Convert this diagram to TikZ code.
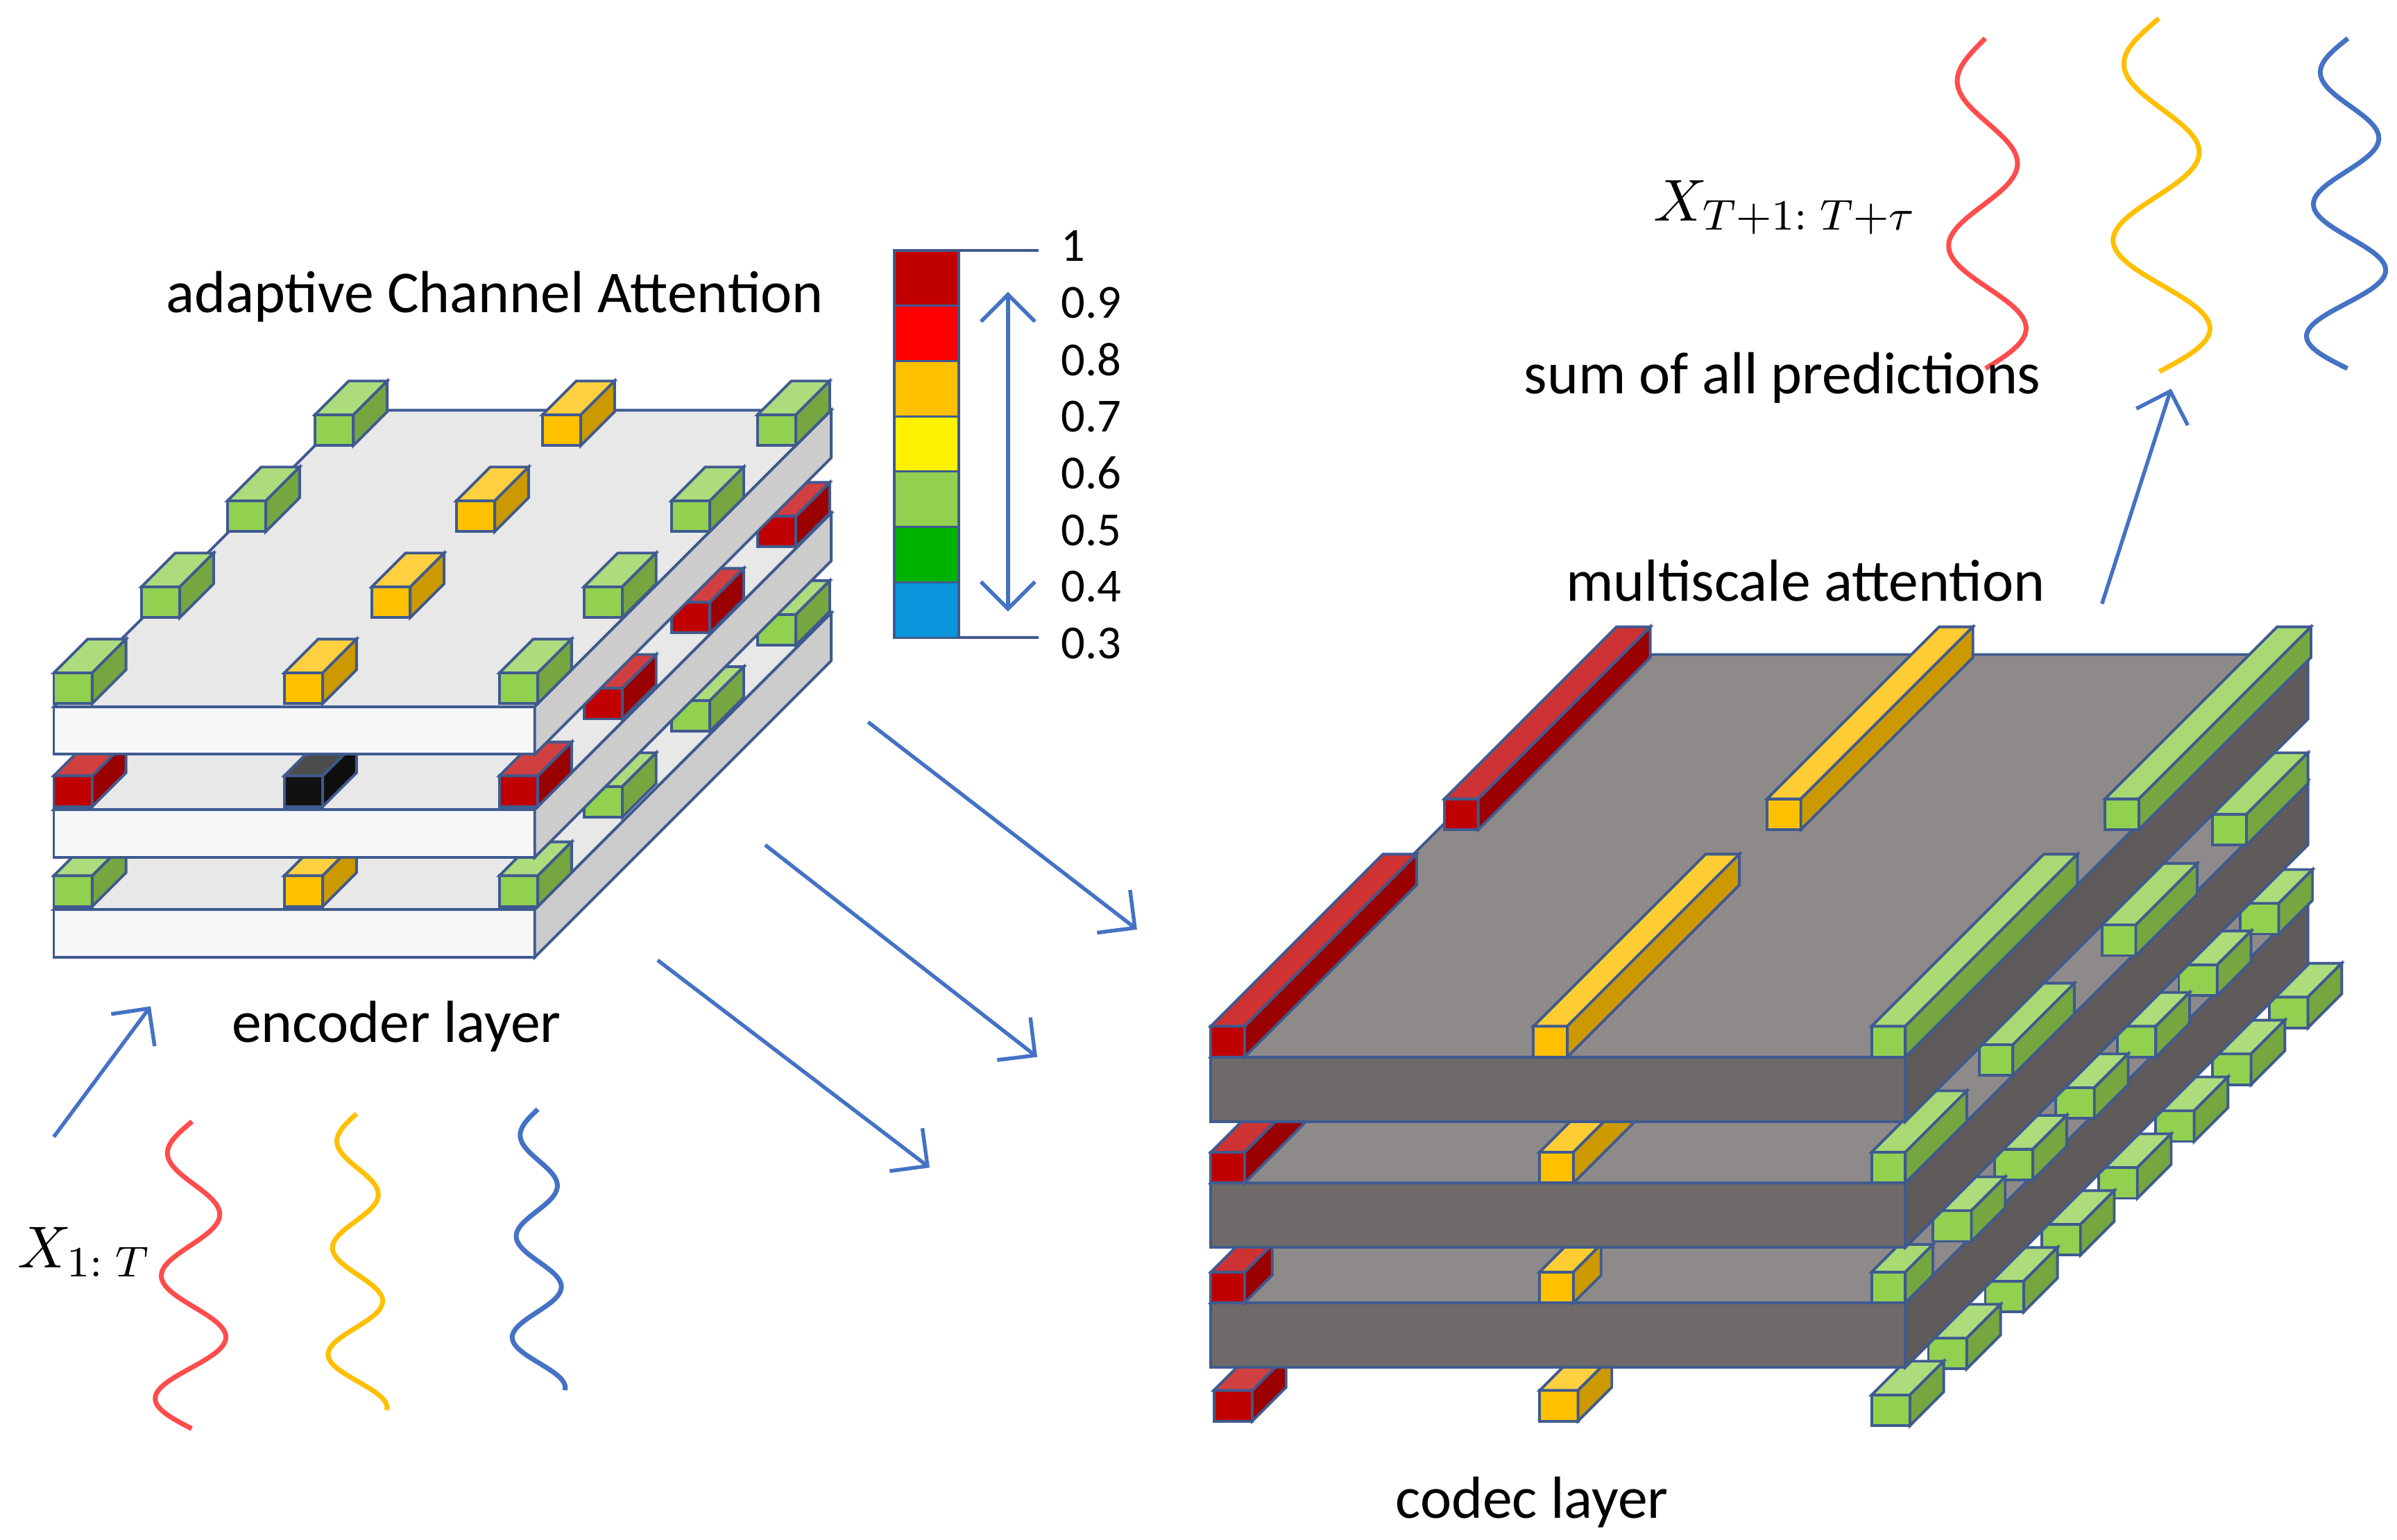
\documentclass[tikz,border=0pt]{standalone}
\usepackage{fontspec}
\setmainfont{Carlito}
\usetikzlibrary{arrows.meta}
\definecolor{bl}{HTML}{4472C4}
\definecolor{edge}{HTML}{3F5A8F}
\definecolor{dred}{HTML}{C00000}
\definecolor{org}{HTML}{FFC000}
\definecolor{lgr}{HTML}{92D050}
\definecolor{blk}{HTML}{111111}
\definecolor{ctop}{HTML}{8E8A89}
\definecolor{cfront}{HTML}{6E6A69}
\definecolor{cside}{HTML}{5E5B5A}
\newcommand{\prism}[8]{%
 \filldraw[draw=edge,line width=0.5pt,fill=#6] (#1,#2) rectangle ({#1+#3},{#2-#4});
 \filldraw[draw=edge,line width=0.5pt,fill=#7] (#1,{#2-#4}) -- ({#1+#3},{#2-#4}) -- ({#1+#3+#5},{#2-#4-#5}) -- ({#1+#5},{#2-#4-#5}) -- cycle;
 \filldraw[draw=edge,line width=0.5pt,fill=#8] ({#1+#3},#2) -- ({#1+#3},{#2-#4}) -- ({#1+#3+#5},{#2-#4-#5}) -- ({#1+#3+#5},{#2-#5}) -- cycle;}
\newcommand{\cub}[3]{\prism{#1}{#2}{25}{20}{22}{#3}{#3!75!white}{#3!80!black}}
\newcommand{\rod}[4]{\prism{#1}{#2}{22}{20}{#3}{#4}{#4!80!white}{#4!80!black}}
\newcommand{\eslab}[1]{\prism{35}{#1}{313}{31}{193}{gray!6}{gray!18}{gray!40}}
\newcommand{\cslab}[1]{\prism{788}{#1}{452}{42}{262}{cfront}{ctop}{cside}}
\newcommand{\wave}[6]{\draw[#1,line width=0.9pt] plot[domain=0:1,samples=80,smooth] ({#2+#4*sin(#6*\x)*(0.6+0.4*\x)},{#3+#5*\x});}
\tikzset{lab/.style={font=\fontsize{11}{13}\selectfont,inner sep=0pt},
 num/.style={font=\fontsize{8.8}{10}\selectfont,anchor=west,inner sep=0pt},
 arr/.style={bl,line width=0.7pt,-{Straight Barb[length=5pt]}}}
\begin{document}
\begin{tikzpicture}[x=0.1mm,y=-0.1mm]
\useasboundingbox (0,0) rectangle (1560,1002);
% ---------- encoder ----------
\eslab{623}
\cub{493}{420}{lgr}\cub{437}{476}{lgr}\cub{380}{532}{lgr}
\cub{35}{590}{lgr}\cub{185}{590}{org}\cub{325}{590}{lgr}
\eslab{558}
\cub{493}{356}{dred}\cub{437}{412}{dred}\cub{380}{468}{dred}
\cub{35}{525}{dred}\cub{185}{525}{blk}\cub{325}{525}{dred}
\eslab{491}
\cub{205}{290}{lgr}\cub{353}{290}{org}\cub{493}{290}{lgr}
\cub{148}{346}{lgr}\cub{297}{346}{org}\cub{437}{346}{lgr}
\cub{92}{402}{lgr}\cub{242}{402}{org}\cub{380}{402}{lgr}
\cub{35}{458}{lgr}\cub{185}{458}{org}\cub{325}{458}{lgr}
% ---------- color bar ----------
\foreach \c [count=\i from 0] in {dred,red,org,yellow,lgr,green!70!black,cyan!80!blue}
  \filldraw[draw=edge,fill=\c,line width=0.4pt] (582,{163+36*\i}) rectangle (624,{199+36*\i});
\draw[edge,line width=0.5pt] (624,163) -- (676,163) (624,415) -- (676,415);
\coordinate (ct) at (656,190); \coordinate (cb) at (656,398);
\draw[bl,line width=0.7pt,{Straight Barb[length=5pt]}-{Straight Barb[length=5pt]}] (ct) -- (cb);
\foreach \v [count=\i from 0] in {1,0.9,0.8,0.7,0.6,0.5,0.4,0.3}
  \node[num] (n\i) at (690,{160+37*\i}) {\v};
% ---------- codec ----------
\foreach \k in {7,6,5,4,3,2,1} {\pgfmathsetmacro\px{1218+37*\k}\pgfmathsetmacro\py{928-37*\k}\cub{\px}{\py}{lgr}}
\cub{790}{925}{dred}\cub{1002}{925}{org}\cub{1218}{928}{lgr}
\cslab{890}
\foreach \k in {6,5,4,3,2,1} {\pgfmathsetmacro\px{1218+40*\k}\pgfmathsetmacro\py{848-40*\k}\cub{\px}{\py}{lgr}}
\rod{788}{848}{18}{dred}\rod{1002}{848}{18}{org}\rod{1218}{848}{18}{lgr}
\cslab{812}
\rod{1440}{550}{40}{lgr}\rod{1368}{622}{40}{lgr}\rod{1288}{700}{40}{lgr}
\rod{788}{770}{40}{dred}\rod{1002}{770}{40}{org}\rod{1218}{770}{40}{lgr}
\cslab{730}
\rod{940}{540}{112}{dred}\rod{1150}{540}{112}{org}\rod{1370}{540}{112}{lgr}
\rod{788}{688}{112}{dred}\rod{998}{688}{112}{org}\rod{1218}{688}{112}{lgr}
% ---------- arrows ----------
\coordinate (a1s) at (35,740); \coordinate (a1e) at (98,655);
\coordinate (a2s) at (565,470); \coordinate (a2e) at (740,605);
\coordinate (a3s) at (498,550); \coordinate (a3e) at (675,688);
\coordinate (a4s) at (428,625); \coordinate (a4e) at (605,760);
\coordinate (a5s) at (1368,393); \coordinate (a5e) at (1413,253);
\foreach \s/\e in {a1s/a1e,a2s/a2e,a3s/a3e,a4s/a4e,a5s/a5e} \draw[arr] (\s) -- (\e);
% ---------- waves ----------
\wave{red!70!white}{125}{730}{-25}{200}{900}
\wave{org}{232}{725}{-20}{193}{1000}
\wave{bl}{350}{722}{-18}{183}{1000}
\wave{red!70!white}{1292}{25}{-28}{215}{720}
\wave{org}{1405}{12}{-35}{230}{720}
\wave{bl}{1528}{25}{-28}{215}{900}
% ---------- text ----------
\node[lab] (t1) at (322,193) {adaptive Channel Attention};
\node[lab] (t2) at (258,668) {encoder layer};
\node[lab] (t3) at (1175,378) {multiscale attention};
\node[lab] (t4) at (1160,246) {sum of all predictions};
\node[lab] (t5) at (997,978) {codec layer};
\node[font=\fontsize{11}{13}\selectfont] (x1) at (55,815) {$X_{1:\;T}$};
\node[font=\fontsize{11}{13}\selectfont] (x2) at (1162,135) {$X_{T+1:\;T+\tau}$};
\end{tikzpicture}
\end{document}
